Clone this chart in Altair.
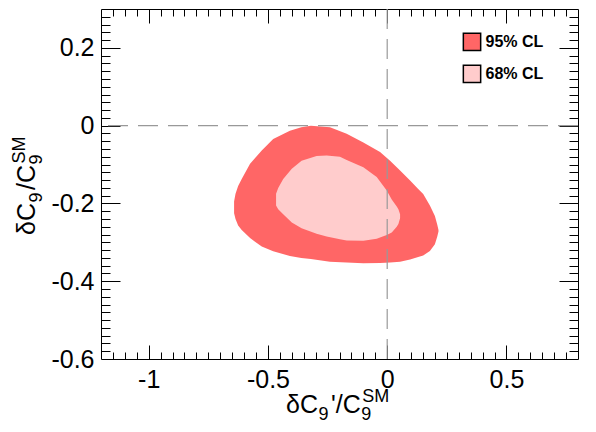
import altair as alt
import pandas as pd

# ---- data ----
levels = ["95% CL", "68% CL"]
level_colors = ["#ff6666", "#ffcccc"]

# 95% CL region: x, upper boundary, lower boundary
cl95_x   = [-0.642, -0.636, -0.625, -0.610, -0.575, -0.526, -0.478, -0.408, -0.360, -0.320, -0.240, -0.170, -0.100, -0.030, 0.012, 0.054, 0.096, 0.130, 0.151, 0.179, 0.200, 0.210, 0.215]
cl95_top = [-0.195, -0.175, -0.155, -0.137, -0.098, -0.064, -0.034, -0.013, -0.004, 0.000, -0.004, -0.021, -0.043, -0.068, -0.090, -0.115, -0.141, -0.163, -0.176, -0.205, -0.232, -0.255, -0.268]
cl95_bot = [-0.225, -0.240, -0.257, -0.268, -0.289, -0.311, -0.323, -0.335, -0.340, -0.343, -0.350, -0.352, -0.354, -0.353, -0.352, -0.350, -0.344, -0.338, -0.334, -0.322, -0.305, -0.285, -0.272]

# 68% CL region
cl68_x   = [-0.466, -0.457, -0.436, -0.400, -0.359, -0.296, -0.254, -0.198, -0.170, -0.100, -0.044, -0.002, 0.019, 0.040, 0.047, 0.054]
cl68_top = [-0.175, -0.160, -0.137, -0.111, -0.090, -0.078, -0.077, -0.080, -0.088, -0.107, -0.132, -0.167, -0.190, -0.208, -0.215, -0.228]
cl68_bot = [-0.205, -0.215, -0.228, -0.249, -0.264, -0.278, -0.285, -0.292, -0.295, -0.296, -0.291, -0.281, -0.275, -0.260, -0.253, -0.238]

x_domain = [-1.2, 0.8]
y_domain = [-0.6, 0.3]
x_labels = [-1.0, -0.5, 0.0, 0.5]
y_labels = [-0.6, -0.4, -0.2, 0.0, 0.2]
x_major = [-1.0, -0.5, 0.0, 0.5]
y_major = [-0.4, -0.2, 0.0, 0.2]
x_minor = [v for v in (round(-1.2 + 0.05 * i, 2) for i in range(1, 40)) if v not in x_major]
y_minor = [v for v in (round(-0.6 + 0.02 * i, 2) for i in range(1, 45)) if v not in y_major]
ref_lines = [0.0]

W, H = 477, 350
FONT = "Liberation Sans"
label_expr = "replace(format(datum.value, '~g'), '\u2212', '-')"

df95 = pd.DataFrame({"x": cl95_x, "top": cl95_top, "bot": cl95_bot, "level": levels[0]})
df68 = pd.DataFrame({"x": cl68_x, "top": cl68_top, "bot": cl68_bot, "level": levels[1]})
df_ref = pd.DataFrame({"v": ref_lines})
one_row = pd.DataFrame({"a": [0]})

sx = alt.Scale(domain=x_domain, nice=False, zero=False)
sy = alt.Scale(domain=y_domain, nice=False, zero=False)
sc = alt.Scale(domain=levels, range=level_colors)


def tick_axis(orient, values, size, offset):
    return alt.Axis(orient=orient, values=values, tickSize=size, labels=False,
                    domain=False, grid=False, title=None, offset=offset,
                    tickColor="black", tickWidth=1)


legend = alt.Legend(orient="none", legendX=361.5, legendY=23.3, title=None,
                    symbolType="square", symbolSize=300, symbolStrokeColor="black",
                    symbolStrokeWidth=1.5, symbolOpacity=1, labelFont=FONT,
                    labelFontSize=16, labelFontWeight="bold", labelColor="black",
                    labelOffset=4, rowPadding=7, padding=0)

area95 = alt.Chart(df95).mark_area(interpolate="linear", opacity=1).encode(
    x=alt.X("x:Q", scale=sx, axis=alt.Axis(orient="bottom", values=x_labels, labelExpr=label_expr,
                                           ticks=False, tickSize=0, domain=False, grid=False, title=None,
                                           labelPadding=8, labelFont=FONT, labelFontSize=25,
                                           labelColor="black")),
    y=alt.Y("top:Q", scale=sy, axis=alt.Axis(orient="left", values=y_labels, labelExpr=label_expr,
                                             ticks=False, tickSize=0, domain=False, grid=False, title=None,
                                             labelPadding=7, labelFont=FONT, labelFontSize=25,
                                             labelColor="black")),
    y2="bot:Q",
    color=alt.Color("level:N", scale=sc, legend=legend),
)

area68 = alt.Chart(df68).mark_area(interpolate="linear", opacity=1).encode(
    x=alt.X("x:Q", scale=sx, axis=tick_axis("top", x_major, 14, -H)),
    y=alt.Y("top:Q", scale=sy, axis=tick_axis("right", y_major, 19, -W)),
    y2="bot:Q",
    color=alt.Color("level:N", scale=sc, legend=legend),
)

vrule = alt.Chart(df_ref).mark_rule(color="#999999", strokeWidth=1.2, strokeDash=[20, 10]).encode(
    x=alt.X("v:Q", scale=sx, axis=tick_axis("top", x_minor, 7, -H)),
)
hrule = alt.Chart(df_ref).mark_rule(color="#999999", strokeWidth=1.2, strokeDash=[20, 10]).encode(
    y=alt.Y("v:Q", scale=sy, axis=tick_axis("right", y_minor, 9, -W)),
)

ghost_major = alt.Chart(df95).mark_point(opacity=0).encode(
    x=alt.X("x:Q", scale=sx, axis=tick_axis("bottom", x_major, 14, -H)),
    y=alt.Y("top:Q", scale=sy, axis=tick_axis("left", y_major, 19, -W)),
)
ghost_minor = alt.Chart(df95).mark_point(opacity=0).encode(
    x=alt.X("x:Q", scale=sx, axis=tick_axis("bottom", x_minor, 7, -H)),
    y=alt.Y("top:Q", scale=sy, axis=tick_axis("left", y_minor, 9, -W)),
)


def piece(text, x, y, size, angle=0):
    return alt.Chart(one_row).mark_text(
        text=text, font=FONT, fontSize=size, align="left", baseline="alphabetic",
        angle=angle, color="black"
    ).encode(x=alt.value(x), y=alt.value(y))


MAIN, SMALL = 25, 18
# x-axis title: δC_9'/C_9^SM
x0, yb = 185, 404
x_title = [
    piece("δC", x0, yb, MAIN),
    piece("9", x0 + 32.5, yb + 7, SMALL),
    piece("'/C", x0 + 45, yb, MAIN),
    piece("9", x0 + 75.3, yb + 7, SMALL),
    piece("SM", x0 + 76.3, yb - 11, SMALL),
]
# y-axis title: δC_9/C_9^SM (rotated)
xb, y0 = -66, 226
y_title = [
    piece("δC", xb, y0, MAIN, 270),
    piece("9", xb + 7, y0 - 32.5, SMALL, 270),
    piece("/C", xb, y0 - 45, MAIN, 270),
    piece("9", xb + 7, y0 - 70.5, SMALL, 270),
    piece("SM", xb - 10, y0 - 71.5, SMALL, 270),
]

chart = alt.layer(
    area95, area68, vrule, hrule, ghost_major, ghost_minor, *x_title, *y_title
).resolve_axis(x="independent", y="independent").properties(
    width=W, height=H,
    autosize=alt.AutoSizeParams(type="none"),
    padding={"left": 93, "top": 1, "right": 10, "bottom": 65},
    background="white",
).configure_view(stroke="black", strokeWidth=1)

chart.save("out.html", embed_options={"renderer": "svg", "actions": False})
